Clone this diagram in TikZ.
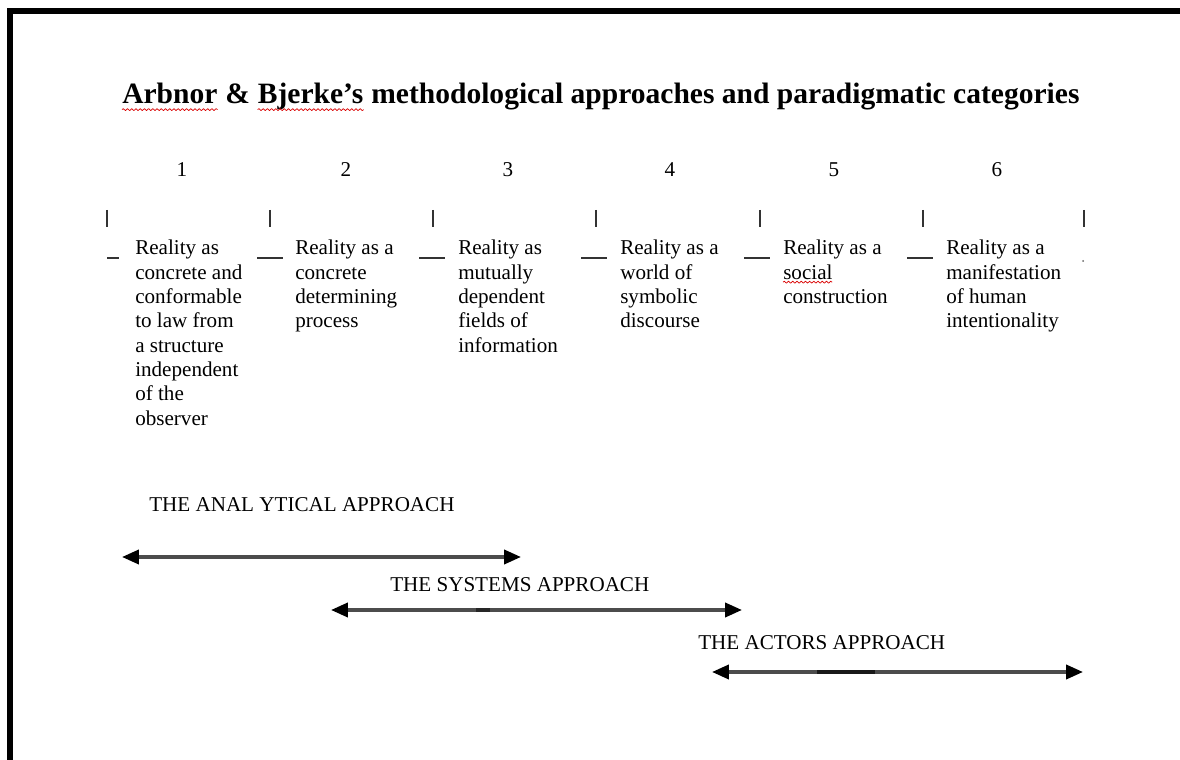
\documentclass[tikz,border=0pt]{standalone}
\usepackage{fontspec}
\setmainfont{Liberation Serif}
\usetikzlibrary{arrows.meta,decorations.pathmorphing}
\tikzset{
  every picture/.style={line join=round, >=Stealth},
  ttl/.style={font=\fontsize{21}{25}\selectfont\bfseries, anchor=base west, inner sep=0pt},
  colnum/.style={font=\fontsize{15}{18}\selectfont, inner sep=0pt},
  coltext/.style={font=\fontsize{15}{17.3}\selectfont, align=left, anchor=north west, inner sep=0pt},
  applabel/.style={font=\fontsize{15}{18}\selectfont, anchor=base west, inner sep=0pt},
  apparrow/.style={line width=2.4pt, draw=black!70,
    {Triangle[length=12pt,width=10pt,color=black]}-{Triangle[length=12pt,width=10pt,color=black]}},
  spellmark/.style={red!85!black, line width=0.5pt, decorate, decoration={snake, amplitude=0.7pt, segment length=3pt}},
  sepbar/.style={line width=1.3pt, black!80},
}

\begin{document}
\begin{tikzpicture}[x=0.025cm,y=-0.025cm]
\useasboundingbox (0,0) rectangle (1180,760);
% frame
\draw[line width=4pt, line join=miter] (10,770) -- (10,11) -- (1190,11);

% title
\node[ttl] (ttl-a) at (122,104) {Arbnor};
\node[ttl] (ttl-b) at (ttl-a.base east) {\ \&\ \null};
\node[ttl] (ttl-c) at (ttl-b.base east) {Bjerke’s};
\node[ttl] (ttl-d) at (ttl-c.base east) {\ methodological approaches and paradigmatic categories};
\draw[spellmark] ([yshift=-4pt]ttl-a.base west) -- ([yshift=-4pt]ttl-a.base east);
\draw[spellmark] ([yshift=-4pt]ttl-c.base west) -- ([yshift=-4pt]ttl-c.base east);

% numbers, bars and dashes
\foreach \i/\x in {1/182,2/346,3/508,4/670,5/834,6/997}
  \node[colnum] (num\i) at (\x,170) {\i};
\foreach \x in {107,270,433,596,760,923,1084}
  \draw[sepbar] (\x,210) -- (\x,227);
\draw[sepbar] (107,258) -- (119,258);
\foreach \x in {257,419,581,744,907}
  \draw[sepbar] (\x,258) -- ++(26,0);
\fill[black!60] (1083,261) circle[radius=1];

% columns
\node[coltext] (txt1) at (135,240) {Reality as\\concrete and\\conformable\\to law from\\a structure\\independent\\of the\\observer};
\node[coltext] (txt2) at (295,240) {Reality as a\\concrete\\determining\\process};
\node[coltext] (txt3) at (458,240) {Reality as\\mutually\\dependent\\fields of\\information};
\node[coltext] (txt4) at (620,240) {Reality as a\\world of\\symbolic\\discourse};
\node[coltext] (txt5) at (783,240) {Reality as a\\social\\construction};
\node[coltext] (txt6) at (946,240) {Reality as a\\manifestation\\of human\\intentionality};
\draw[spellmark] ([yshift=-30pt]txt5.north west) -- ([yshift=-30pt,xshift=35pt]txt5.north west);

% approaches
\node[applabel] (ana) at (149,512) {THE ANAL YTICAL APPROACH};
\coordinate (ana-l) at (122,557);
\coordinate (ana-r) at (521,557);
\draw[apparrow] (ana-l) -- (ana-r);

\node[applabel] (sys) at (390,592) {THE SYSTEMS APPROACH};
\coordinate (sys-l) at (331,610);
\coordinate (sys-r) at (742,610);
\draw[apparrow] (sys-l) -- (sys-r);
\path (sys-l) -- (sys-r) coordinate[pos=0.353] (sys-m1) coordinate[pos=0.387] (sys-m2);
\draw[line width=2.8pt, black!85] (sys-m1) -- (sys-m2);

\node[applabel] (act) at (698,650) {THE ACTORS APPROACH};
\coordinate (act-l) at (712,672);
\coordinate (act-r) at (1083,672);
\draw[apparrow] (act-l) -- (act-r);
\path (act-l) -- (act-r) coordinate[pos=0.283] (act-m1) coordinate[pos=0.439] (act-m2);
\draw[line width=3.2pt, black!90] (act-m1) -- (act-m2);
\end{tikzpicture}
\end{document}
